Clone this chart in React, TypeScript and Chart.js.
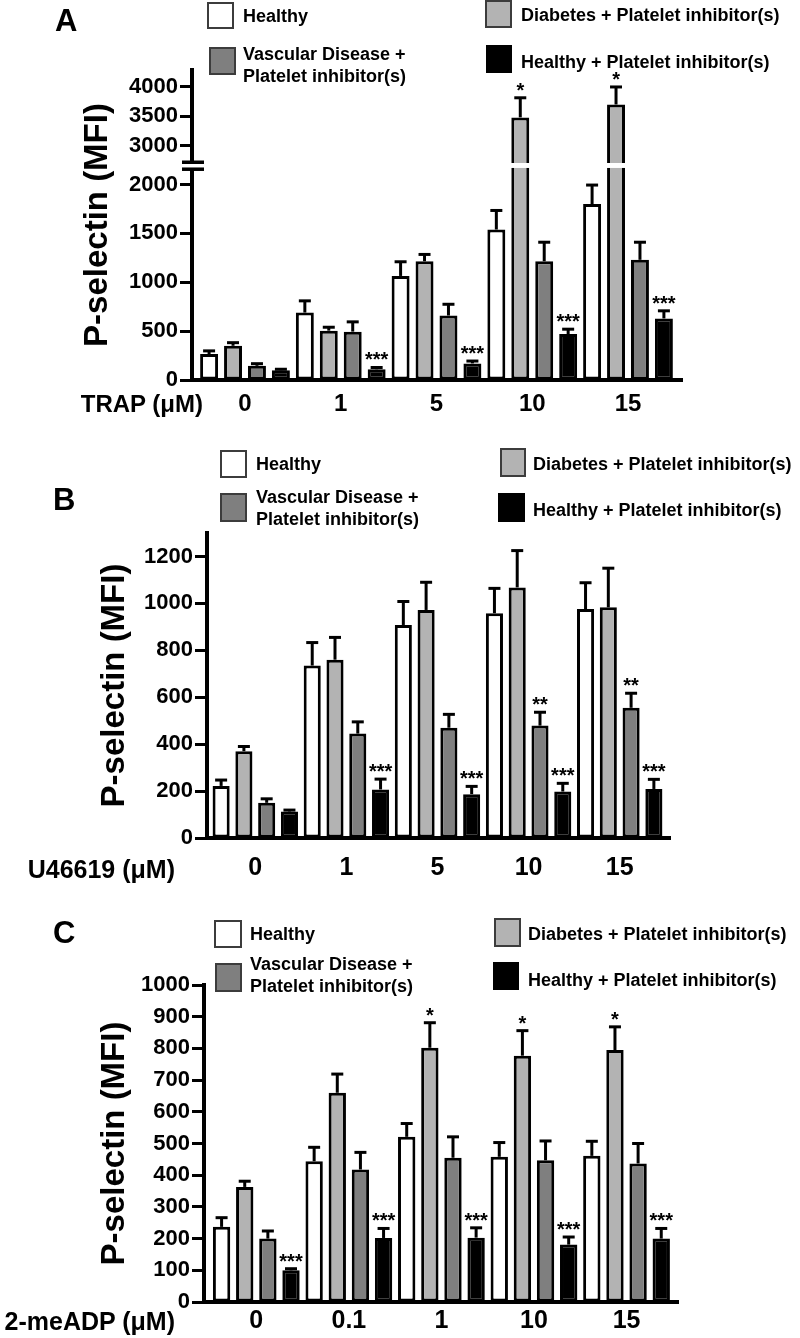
import React, { useEffect, useRef } from 'react';
import { Chart, registerables, LinearScale } from 'chart.js';

Chart.register(...registerables);

const FONT = '"Liberation Sans", Arial, Helvetica, sans-serif';

const SERIES = [
  'Healthy',
  'Diabetes + Platelet inhibitor(s)',
  'Vascular Disease + Platelet inhibitor(s)',
  'Healthy + Platelet inhibitor(s)',
];
const FILLS = ['#ffffff', '#b3b3b3', '#7f7f7f', '#000000'];
const Y_TITLE = 'P-selectin (MFI)';
const NONE = ['', '', '', '', ''];

// ---- Panel A: TRAP ----
const TRAP_LABEL = 'TRAP (μM)';
const TRAP_DOSES = ['0', '1', '5', '10', '15'];
const TRAP_HEALTHY = [265, 690, 1065, 1540, 1800];
const TRAP_HEALTHY_SEM = [33, 120, 145, 195, 195];
const TRAP_DIABETES = [350, 505, 1215, 3480, 3700];
const TRAP_DIABETES_SEM = [32, 35, 70, 335, 300];
const TRAP_VASCULAR = [145, 495, 660, 1215, 1230];
const TRAP_VASCULAR_SEM = [22, 100, 115, 195, 180];
const TRAP_HPI = [100, 110, 170, 470, 630];
const TRAP_HPI_SEM = [10, 18, 24, 50, 78];
const TRAP_SIG_DIABETES = ['', '', '', '*', '*'];
const TRAP_SIG_HPI = ['', '***', '***', '***', '***'];
const TRAP_TICKS = [0, 500, 1000, 1500, 2000, 3000, 3500, 4000];

// ---- Panel B: U46619 ----
const U_LABEL = 'U46619 (μM)';
const U_DOSES = ['0', '1', '5', '10', '15'];
const U_HEALTHY = [222, 735, 908, 958, 976];
const U_HEALTHY_SEM = [25, 98, 100, 106, 112];
const U_DIABETES = [370, 760, 972, 1068, 983];
const U_DIABETES_SEM = [20, 95, 118, 157, 167];
const U_VASCULAR = [150, 445, 470, 479, 555];
const U_VASCULAR_SEM = [17, 50, 57, 57, 62];
const U_HPI = [113, 207, 187, 198, 209];
const U_HPI_SEM = [6, 44, 33, 35, 41];
const U_SIG_VASCULAR = ['', '', '', '**', '**'];
const U_SIG_HPI = ['', '***', '***', '***', '***'];
const U_TICKS = [0, 200, 400, 600, 800, 1000, 1200];

// ---- Panel C: 2-meADP ----
const ADP_LABEL = '2-meADP (μM)';
const ADP_DOSES = ['0', '0.1', '1', '10', '15'];
const ADP_HEALTHY = [237, 444, 521, 458, 461];
const ADP_HEALTHY_SEM = [29, 44, 42, 45, 46];
const ADP_DIABETES = [363, 660, 802, 777, 795];
const ADP_DIABETES_SEM = [18, 59, 79, 79, 73];
const ADP_VASCULAR = [200, 418, 455, 447, 437];
const ADP_VASCULAR_SEM = [24, 54, 66, 61, 63];
const ADP_HPI = [100, 202, 203, 181, 200];
const ADP_HPI_SEM = [5, 30, 31, 24, 32];
const ADP_SIG_DIABETES = ['', '', '*', '*', '*'];
const ADP_SIG_HPI = ['***', '***', '***', '***', '***'];
const ADP_TICKS = [0, 100, 200, 300, 400, 500, 600, 700, 800, 900, 1000];

// ---- broken axis for panel A ----
const BREAK_LOW = 2170;
const BREAK_HIGH = 2700;
const LOW_SHARE = 0.684;
const GAP_SHARE = 0.016;

class BrokenLinearScale extends LinearScale {
  static id = 'brokenLinear';
  getPixelForValue(value: any) {
    const v = +value;
    const lo = (this as any).min;
    const hi = (this as any).max;
    let d;
    if (v <= BREAK_LOW) d = ((v - lo) / (BREAK_LOW - lo)) * LOW_SHARE;
    else if (v >= BREAK_HIGH)
      d = LOW_SHARE + GAP_SHARE + ((v - BREAK_HIGH) / (hi - BREAK_HIGH)) * (1 - LOW_SHARE - GAP_SHARE);
    else d = LOW_SHARE + (GAP_SHARE * (v - BREAK_LOW)) / (BREAK_HIGH - BREAK_LOW);
    return (this as any).getPixelForDecimal(d);
  }
  getValueForPixel(pixel: number) {
    const d = (this as any).getDecimalForPixel(pixel);
    const lo = (this as any).min;
    const hi = (this as any).max;
    if (d <= LOW_SHARE) return lo + (d / LOW_SHARE) * (BREAK_LOW - lo);
    if (d >= LOW_SHARE + GAP_SHARE)
      return BREAK_HIGH + ((d - LOW_SHARE - GAP_SHARE) / (1 - LOW_SHARE - GAP_SHARE)) * (hi - BREAK_HIGH);
    return BREAK_LOW + ((d - LOW_SHARE) / GAP_SHARE) * (BREAK_HIGH - BREAK_LOW);
  }
}
Chart.register(BrokenLinearScale as any);

const errorBarPlugin = {
  id: 'errorBars',
  afterDatasetsDraw(chart: any) {
    const { ctx } = chart;
    ctx.save();
    chart.data.datasets.forEach((ds: any, i: number) => {
      const meta = chart.getDatasetMeta(i);
      const yScale = chart.scales[meta.yAxisID];
      meta.data.forEach((bar: any, j: number) => {
        const v = ds.data[j].y;
        const topPx = yScale.getPixelForValue(v + ds.errors[j]);
        const x = bar.x;
        ctx.strokeStyle = '#000';
        ctx.lineWidth = 3;
        ctx.lineCap = 'butt';
        ctx.beginPath();
        ctx.moveTo(x, bar.y);
        ctx.lineTo(x, topPx);
        ctx.stroke();
        ctx.beginPath();
        ctx.moveTo(x - 6, topPx);
        ctx.lineTo(x + 6, topPx);
        ctx.stroke();
        const star = ds.stars[j];
        if (star) {
          ctx.fillStyle = '#000';
          ctx.font = `bold 20px ${FONT}`;
          ctx.textAlign = 'center';
          ctx.textBaseline = 'alphabetic';
          ctx.fillText(star, x, topPx - 1);
        }
      });
    });
    ctx.restore();
  },
};

const axisBreakPlugin = {
  id: 'axisBreak',
  afterDraw(chart: any) {
    const { ctx, chartArea } = chart;
    const y = chart.scales.y;
    const top = y.getPixelForValue(BREAK_HIGH);
    const bot = y.getPixelForValue(BREAK_LOW);
    ctx.save();
    ctx.fillStyle = '#fff';
    ctx.fillRect(chartArea.left + 3, top, chartArea.right - chartArea.left - 3, bot - top);
    ctx.fillRect(chartArea.left - 4, top - 1, 8, bot - top + 2);
    ctx.fillStyle = '#000';
    ctx.fillRect(chartArea.left - 10, top - 2.5, 22, 3.5);
    ctx.fillRect(chartArea.left - 10, bot - 0.5, 22, 3.5);
    ctx.restore();
  },
};

function makeConfig(s: any) {
  const datasets = SERIES.map((label, k) => ({
    label,
    data: s.values[k].map((y: number, i: number) => ({ x: i, y })),
    errors: s.sems[k],
    stars: s.sig[k],
    backgroundColor: FILLS[k],
    borderColor: '#000',
    borderWidth: 3,
    borderSkipped: false,
    categoryPercentage: 1,
    barPercentage: 0.75,
  }));
  return {
    type: 'bar',
    data: { datasets },
    plugins: s.plugins,
    options: {
      animation: false,
      responsive: false,
      maintainAspectRatio: false,
      devicePixelRatio: 1,
      events: [],
      layout: { padding: { left: 0, top: s.area.top, right: 800 - s.area.right, bottom: 0 } },
      plugins: { legend: { display: false }, tooltip: { enabled: false }, title: { display: false } },
      scales: {
        x: {
          type: 'linear',
          min: s.xMin,
          max: s.xMax,
          offset: false,
          grid: { display: false, drawTicks: false, offset: false },
          border: { display: true, color: '#000', width: 4 },
          ticks: {
            color: '#000',
            font: { family: FONT, size: s.xFont, weight: 'bold' },
            padding: s.xPad,
            autoSkip: false,
            maxRotation: 0,
            minRotation: 0,
            callback: (v: number) => s.doses[Math.round(v)] ?? '',
          },
          afterBuildTicks: (sc: any) => {
            sc.ticks = s.doses.map((_: string, i: number) => ({ value: i }));
          },
          afterFit: (sc: any) => {
            sc.height = s.height - s.area.bottom;
          },
        },
        y: {
          type: s.yType,
          min: 0,
          max: s.yMax,
          grid: {
            display: true,
            drawOnChartArea: false,
            drawTicks: true,
            tickLength: 12,
            tickWidth: 3,
            tickColor: '#000',
          },
          border: { display: true, color: '#000', width: 4 },
          ticks: {
            color: '#000',
            font: { family: FONT, size: 22, weight: 'bold' },
            padding: 2,
            autoSkip: false,
            callback: (v: number) => String(v),
          },
          afterBuildTicks: (sc: any) => {
            sc.ticks = s.yTicks.map((v: number) => ({ value: v }));
          },
          afterFit: (sc: any) => {
            sc.width = s.area.left;
          },
          title: {
            display: true,
            text: Y_TITLE,
            color: '#000',
            font: { family: FONT, size: 33, weight: 'bold' },
            padding: { top: s.titlePad, bottom: 0 },
          },
        },
      },
    },
  };
}

const PANEL_A = {
  doses: TRAP_DOSES,
  values: [TRAP_HEALTHY, TRAP_DIABETES, TRAP_VASCULAR, TRAP_HPI],
  sems: [TRAP_HEALTHY_SEM, TRAP_DIABETES_SEM, TRAP_VASCULAR_SEM, TRAP_HPI_SEM],
  sig: [NONE, TRAP_SIG_DIABETES, NONE, TRAP_SIG_HPI],
  yType: 'brokenLinear',
  yMax: 4290,
  yTicks: TRAP_TICKS,
  height: 430,
  area: { left: 192, top: 70, bottom: 380, right: 682 },
  xMin: -0.5535,
  xMax: 4.564,
  xFont: 24,
  xPad: 10,
  titlePad: 78,
  plugins: [errorBarPlugin, axisBreakPlugin],
};

const PANEL_B = {
  doses: U_DOSES,
  values: [U_HEALTHY, U_DIABETES, U_VASCULAR, U_HPI],
  sems: [U_HEALTHY_SEM, U_DIABETES_SEM, U_VASCULAR_SEM, U_HPI_SEM],
  sig: [NONE, NONE, U_SIG_VASCULAR, U_SIG_HPI],
  yType: 'linear',
  yMax: 1300,
  yTicks: U_TICKS,
  height: 470,
  area: { left: 207, top: 103, bottom: 408, right: 670 },
  xMin: -0.53,
  xMax: 4.552,
  xFont: 25,
  xPad: 15,
  titlePad: 95,
  plugins: [errorBarPlugin],
};

const PANEL_C = {
  doses: ADP_DOSES,
  values: [ADP_HEALTHY, ADP_DIABETES, ADP_VASCULAR, ADP_HPI],
  sems: [ADP_HEALTHY_SEM, ADP_DIABETES_SEM, ADP_VASCULAR_SEM, ADP_HPI_SEM],
  sig: [NONE, ADP_SIG_DIABETES, NONE, ADP_SIG_HPI],
  yType: 'linear',
  yMax: 1000,
  yTicks: ADP_TICKS,
  height: 438,
  area: { left: 204, top: 85, bottom: 402, right: 678 },
  xMin: -0.565,
  xMax: 4.556,
  xFont: 25,
  xPad: 4,
  titlePad: 95,
  plugins: [errorBarPlugin],
};

function BarPanel({ top, spec }: any) {
  const ref = useRef<HTMLCanvasElement>(null);
  useEffect(() => {
    const chart = new Chart(ref.current as any, makeConfig(spec) as any);
    return () => chart.destroy();
  }, []);
  return (
    <canvas
      ref={ref}
      width={800}
      height={spec.height}
      style={{ position: 'absolute', left: 0, top, width: 800, height: spec.height }}
    />
  );
}

function Txt({ left, right, cy, size, lh, children }: any) {
  return (
    <div
      style={{
        position: 'absolute',
        left,
        right,
        top: cy - lh / 2,
        fontSize: size,
        lineHeight: `${lh}px`,
        whiteSpace: 'nowrap',
        textAlign: right !== undefined ? 'right' : 'left',
      }}
    >
      {children}
    </div>
  );
}

function Box({ left, top, w, h, k }: any) {
  return (
    <div
      style={{
        position: 'absolute',
        left,
        top,
        width: w,
        height: h,
        boxSizing: 'border-box',
        border: k === 3 ? '2px solid #000' : '2px solid #3c3c3c',
        background: FILLS[k],
      }}
    />
  );
}

function Legend({ L }: any) {
  return (
    <>
      <Box left={L.b0[0]} top={L.b0[1]} w={L.b0[2]} h={L.b0[3]} k={0} />
      <Txt left={L.t0[0]} cy={L.t0[1]} size={18} lh={22}>
        {SERIES[0]}
      </Txt>
      <Box left={L.b2[0]} top={L.b2[1]} w={L.b2[2]} h={L.b2[3]} k={2} />
      <Txt left={L.t2[0]} cy={L.t2[1]} size={18} lh={22}>
        Vascular Disease +
        <br />
        Platelet inhibitor(s)
      </Txt>
      <Box left={L.b1[0]} top={L.b1[1]} w={L.b1[2]} h={L.b1[3]} k={1} />
      <Txt left={L.t1[0]} cy={L.t1[1]} size={18} lh={22}>
        {SERIES[1]}
      </Txt>
      <Box left={L.b3[0]} top={L.b3[1]} w={L.b3[2]} h={L.b3[3]} k={3} />
      <Txt left={L.t3[0]} cy={L.t3[1]} size={18} lh={22}>
        {SERIES[3]}
      </Txt>
    </>
  );
}

export default function App() {
  return (
    <div
      style={{
        position: 'absolute',
        left: 0,
        top: 0,
        width: 800,
        height: 1338,
        background: '#fff',
        overflow: 'hidden',
        fontFamily: FONT,
        fontWeight: 700,
        color: '#000',
      }}
    >
      <BarPanel top={0} spec={PANEL_A} />
      <BarPanel top={430} spec={PANEL_B} />
      <BarPanel top={900} spec={PANEL_C} />

      <Txt left={55} cy={21} size={31} lh={36}>A</Txt>
      <Txt left={53} cy={499.5} size={31} lh={36}>B</Txt>
      <Txt left={53} cy={932.5} size={31} lh={36}>C</Txt>

      <Legend
        L={{
          b0: [207, 2, 27, 27], t0: [243, 15.5],
          b2: [209, 47, 27, 28], t2: [243, 53.5],
          b1: [485, 0, 27, 28], t1: [521, 15],
          b3: [486, 45, 26, 28], t3: [521, 62],
        }}
      />
      <Legend
        L={{
          b0: [220, 450, 27, 28], t0: [256, 463.5],
          b2: [220, 493, 27, 29], t2: [256, 497],
          b1: [500, 448, 26, 29], t1: [533, 463.5],
          b3: [498, 493, 27, 29], t3: [533, 510],
        }}
      />
      <Legend
        L={{
          b0: [214, 920, 28, 28], t0: [250, 934],
          b2: [215, 963, 27, 29], t2: [250, 964],
          b1: [494, 918, 27, 29], t1: [528, 934],
          b3: [493, 962, 26, 28], t3: [528, 980],
        }}
      />

      <Txt right={597} cy={404} size={24} lh={28}>{TRAP_LABEL}</Txt>
      <Txt right={625} cy={869} size={25} lh={30}>{U_LABEL}</Txt>
      <Txt right={625} cy={1321} size={25} lh={30}>{ADP_LABEL}</Txt>
    </div>
  );
}
